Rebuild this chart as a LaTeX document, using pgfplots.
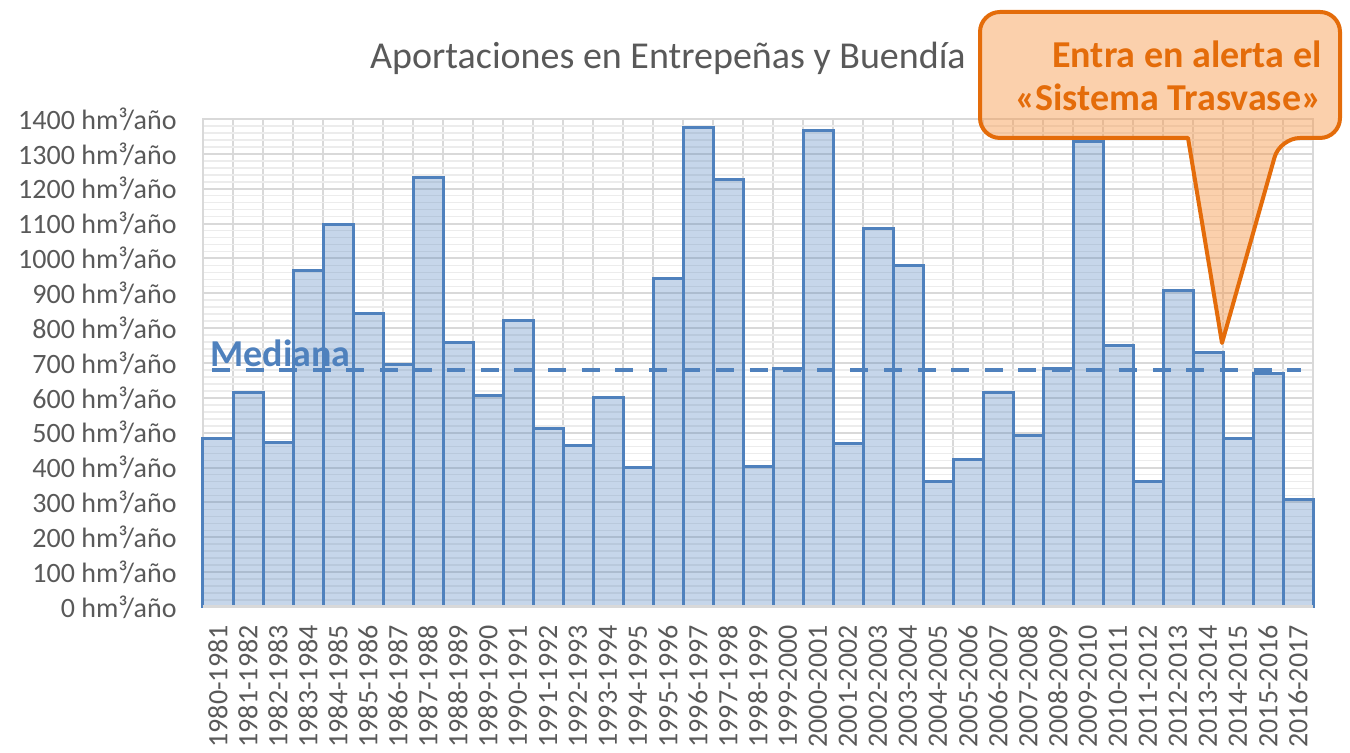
\documentclass[border=0pt]{standalone}
\usepackage{pgfplots}
\pgfplotsset{compat=1.18}
\usepackage{pgfplotstable}
\usepackage{fontspec}
\setmainfont{Carlito}
\definecolor{txtgray}{RGB}{89,89,89}
\definecolor{gridgray}{RGB}{217,217,217}
\definecolor{minorgray}{RGB}{236,236,236}
\definecolor{barblue}{RGB}{79,129,189}
\definecolor{callouto}{RGB}{228,108,10}
\definecolor{calloutfill}{RGB}{247,150,70}

\pgfplotstableread{
x val
0 482
1 614
2 473
3 964
4 1096
5 843
6 697
7 1233
8 760
9 608
10 823
11 511
12 462
13 600
14 399
15 941
16 1377
17 1225
18 404
19 683
20 1368
21 468
22 1087
23 981
24 361
25 422
26 614
27 491
28 683
29 1334
30 749
31 359
32 909
33 729
34 482
35 671
36 307
}\datatable

\begin{document}
\begin{tikzpicture}
\path[use as bounding box] (0,0) rectangle (675pt,376.5pt);
\begin{axis}[
  at={(101.5pt,73pt)}, anchor=south west,
  scale only axis, width=555pt, height=244pt,
  xmin=-0.5, xmax=36.5, ymin=0, ymax=1400,
  ytick={0,100,...,1400},
  minor y tick num=4,
  xtick={0,...,36},
  minor xtick={-0.5,0.5,...,36.5},
  xticklabels={1980-1981,1981-1982,1982-1983,1983-1984,1984-1985,1985-1986,1986-1987,1987-1988,1988-1989,1989-1990,1990-1991,1991-1992,1992-1993,1993-1994,1994-1995,1995-1996,1996-1997,1997-1998,1998-1999,1999-2000,2000-2001,2001-2002,2002-2003,2003-2004,2004-2005,2005-2006,2006-2007,2007-2008,2008-2009,2009-2010,2010-2011,2011-2012,2012-2013,2013-2014,2014-2015,2015-2016,2016-2017},
  x tick label style={rotate=90, anchor=east, inner xsep=9pt, font=\fontsize{14}{16}\selectfont, text=txtgray},
  y tick label style={anchor=east, inner xsep=13pt, font=\fontsize{14}{16}\selectfont, text=txtgray},
  yticklabel={\pgfmathtruncatemacro{\v}{\tick}\v{} hm³/año},
  major tick length=0pt, minor tick length=0pt,
  xminorgrids=true, ymajorgrids=true, yminorgrids=true,
  minor x grid style={gridgray, line width=1pt},
  major y grid style={gridgray, line width=1pt},
  minor y grid style={minorgray, line width=0.8pt},
  axis line style={gridgray, line width=1pt},
  clip=false,
]
\addplot[ybar, bar width=1, bar shift=0pt, fill=barblue, fill opacity=0.32, draw=barblue, line width=1.5pt] table[x=x,y=val]{\datatable};
\draw[gridgray, line width=1.5pt] (axis cs:-0.5,0) -- (axis cs:36.5,0);
\addplot[barblue, line width=2pt, dash pattern=on 9pt off 7.8pt] coordinates {(-0.2,680) (36.1,680)};
\node[anchor=west, text=barblue, font=\fontsize{19}{19}\selectfont\bfseries, inner sep=0pt] at (axis cs:-0.27,728) {Mediana};
\end{axis}
\node[text=txtgray, font=\fontsize{19}{19}\selectfont] at (334pt,347.5pt) {Aportaciones en Entrepeñas y Buendía};
\draw[line width=2pt, draw=callouto, fill=calloutfill, fill opacity=0.45, line join=round]
  (611pt,205pt) -- (594pt,307.5pt) [rounded corners=10pt] -- (490pt,307.5pt) -- (490pt,370.5pt) -- (670pt,370.5pt) -- (670pt,307.5pt) -- (640pt,307.5pt) [sharp corners] -- cycle;
\node[anchor=base east, text=callouto, font=\fontsize{19}{19}\selectfont\bfseries, inner sep=0pt] at (661pt,342.5pt) {Entra en alerta el};
\node[anchor=base east, text=callouto, font=\fontsize{19}{19}\selectfont\bfseries, inner sep=0pt] at (661pt,321pt) {«Sistema Trasvase»};
\end{tikzpicture}
\end{document}
